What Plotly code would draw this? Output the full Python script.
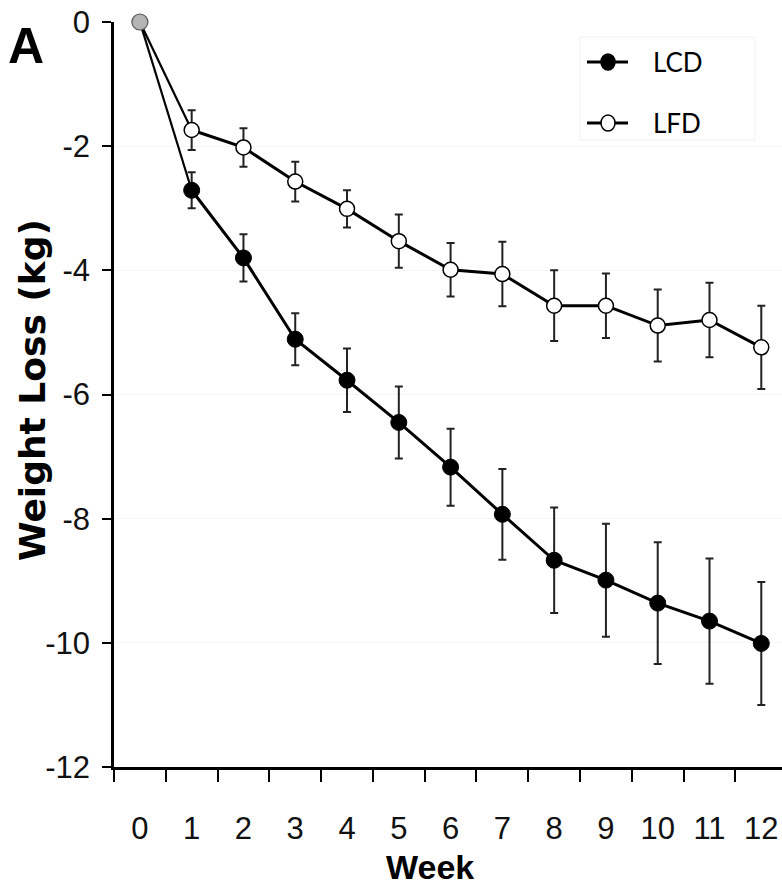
import plotly.graph_objects as go

# Weekly weight change (kg), mean ± error, for the two diet groups
weeks = [0, 1, 2, 3, 4, 5, 6, 7, 8, 9, 10, 11, 12]
lcd_mean = [0, -2.71, -3.80, -5.11, -5.77, -6.45, -7.17, -7.93, -8.67, -8.99, -9.36, -9.65, -10.01]
lcd_err = [0, 0.29, 0.38, 0.42, 0.51, 0.58, 0.62, 0.73, 0.85, 0.91, 0.98, 1.01, 0.99]
lfd_mean = [0, -1.74, -2.02, -2.57, -3.01, -3.53, -3.99, -4.06, -4.57, -4.57, -4.89, -4.80, -5.24]
lfd_err = [0, 0.32, 0.31, 0.32, 0.30, 0.43, 0.43, 0.52, 0.57, 0.52, 0.58, 0.60, 0.67]
y_ticks = [0, -2, -4, -6, -8, -10, -12]
x_minor_ticks = [-0.5, 0.5, 1.5, 2.5, 3.5, 4.5, 5.5, 6.5, 7.5, 8.5, 9.5, 10.5, 11.5]
series_names = ["LCD", "LFD"]

SANS = "Liberation Sans, Arial, sans-serif"
TICK_FONT = dict(family=SANS, size=31, color="#111")

# Plot-area geometry in pixels (used to place the hand-built legend and titles)
W, H = 782, 890
ML, MR, MT, MB = 114, 0, 22, 123
PW, PH = W - ML - MR, H - MT - MB


def px_x(px):
    return (px - ML) / PW


def px_y(py):
    return 1 - (py - MT) / PH


fig = go.Figure()


def err_cfg(vals):
    return dict(type="data", array=vals, visible=True, color="#222", thickness=2, width=4)


# Segments from the common baseline to week 1
for mean in (lcd_mean, lfd_mean):
    fig.add_trace(go.Scatter(
        x=weeks[:2], y=mean[:2], mode="lines",
        line=dict(color="black", width=2.2), showlegend=False, hoverinfo="skip",
    ))

fig.add_trace(go.Scatter(
    x=weeks[1:], y=lfd_mean[1:], name=series_names[1], mode="lines+markers",
    line=dict(color="black", width=3),
    marker=dict(symbol="circle", size=15, color="white", line=dict(color="black", width=1.5)),
    error_y=err_cfg(lfd_err[1:]), cliponaxis=False, showlegend=False,
))
fig.add_trace(go.Scatter(
    x=weeks[1:], y=lcd_mean[1:], name=series_names[0], mode="lines+markers",
    line=dict(color="black", width=3),
    marker=dict(symbol="circle", size=16, color="black", line=dict(color="black", width=1)),
    error_y=err_cfg(lcd_err[1:]), cliponaxis=False, showlegend=False,
))
# Shared week-0 baseline point
fig.add_trace(go.Scatter(
    x=[weeks[0]], y=[lcd_mean[0]], mode="markers",
    marker=dict(symbol="circle", size=16, color="#b4b4b4", line=dict(color="#555", width=1.2)),
    showlegend=False, cliponaxis=False,
))

# Legend: line + marker glyph followed by the series name
shapes = [dict(type="rect", xref="paper", yref="paper",
               x0=px_x(580), x1=px_x(755), y0=px_y(140), y1=px_y(37),
               line=dict(color="#f1f1f1", width=1), fillcolor="rgba(0,0,0,0)", layer="below")]
annotations = []
legend_rows = [(series_names[0], 62, "black"), (series_names[1], 123, "white")]
for name, py, fill in legend_rows:
    shapes.append(dict(type="line", xref="paper", yref="paper",
                       x0=px_x(587), x1=px_x(628), y0=px_y(py), y1=px_y(py),
                       line=dict(color="black", width=3)))
    shapes.append(dict(type="circle", xref="paper", yref="paper",
                       xsizemode="pixel", ysizemode="pixel",
                       xanchor=px_x(608), yanchor=px_y(py),
                       x0=-7, x1=7, y0=-8, y1=8,
                       fillcolor=fill, line=dict(color="black", width=1.5)))
    annotations.append(dict(text=name, xref="paper", yref="paper", x=px_x(651), y=px_y(py),
                            xanchor="left", yanchor="middle", showarrow=False,
                            font=dict(family="Lato, sans-serif", size=26, color="black")))

annotations += [
    dict(text="<b>Week</b>", xref="paper", yref="paper", x=px_x(430), y=px_y(867),
         xanchor="center", yanchor="middle", showarrow=False,
         font=dict(family=SANS, size=34, color="black")),
    dict(text="<b>Weight Loss (kg)</b>", xref="paper", yref="paper", x=px_x(32), y=px_y(390),
         xanchor="center", yanchor="middle", textangle=-90, showarrow=False,
         font=dict(family="DejaVu Sans, sans-serif", size=36, color="black")),
    dict(text="<b>A</b>", xref="paper", yref="paper", x=px_x(26), y=px_y(46),
         xanchor="center", yanchor="middle", showarrow=False,
         font=dict(family=SANS, size=50, color="black")),
]

fig.update_layout(
    width=W, height=H,
    margin=dict(l=ML, r=MR, t=MT, b=MB),
    paper_bgcolor="white", plot_bgcolor="white",
    showlegend=False,
    xaxis=dict(
        range=[-0.5, 12.4], tickmode="array", tickvals=weeks,
        ticktext=[str(w) for w in weeks], ticks="", tickfont=TICK_FONT,
        showline=True, linecolor="black", linewidth=2.5, showgrid=False, zeroline=False,
        minor=dict(tickmode="array", tickvals=x_minor_ticks, ticks="outside",
                   ticklen=12, tickwidth=2, tickcolor="black", showgrid=False),
        ticklabelstandoff=32,
    ),
    yaxis=dict(
        range=[-12, 0], tickmode="array", tickvals=y_ticks,
        ticktext=[str(v) for v in y_ticks], ticks="outside", ticklen=9,
        tickwidth=2, tickcolor="black", tickfont=TICK_FONT, ticklabelstandoff=6,
        showline=True, linecolor="black", linewidth=2.5,
        showgrid=True, gridcolor="#f6f6f6", zeroline=False,
    ),
    shapes=shapes,
    annotations=annotations,
)

fig.write_html("out.html")
